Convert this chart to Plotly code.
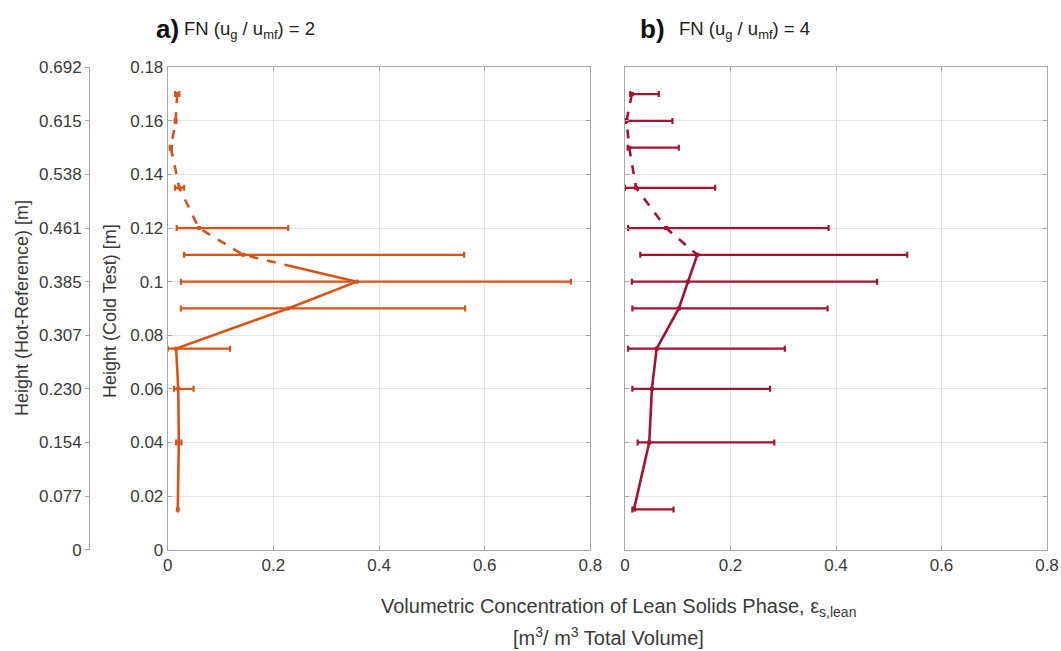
import plotly.graph_objects as go

# ---------------- data ----------------
heights = [0.17, 0.16, 0.15, 0.135, 0.12, 0.11, 0.10, 0.09, 0.075, 0.06, 0.04, 0.015]

# panel a: FN = 2
a_mean = [0.018, 0.015, 0.006, 0.022, 0.059, 0.143, 0.358, 0.228, 0.016, 0.020, 0.021, 0.019]
a_low  = [0.014, 0.014, 0.004, 0.014, 0.017, 0.031, 0.025, 0.025, 0.000, 0.012, 0.016, 0.019]
a_high = [0.022, 0.016, 0.008, 0.031, 0.228, 0.561, 0.763, 0.563, 0.118, 0.049, 0.026, 0.019]
a_dash_h = [0.17, 0.16, 0.15, 0.135, 0.12, 0.11, 0.106]
a_dash_x = [0.018, 0.015, 0.006, 0.022, 0.059, 0.143, 0.228]
a_solid_h = [0.106, 0.10, 0.09, 0.075, 0.06, 0.04, 0.015]
a_solid_x = [0.228, 0.358, 0.228, 0.016, 0.020, 0.021, 0.019]

# panel b: FN = 4
b_mean = [0.013, 0.003, 0.008, 0.021, 0.078, 0.137, 0.119, 0.102, 0.060, 0.051, 0.046, 0.017]
b_low  = [0.010, 0.002, 0.005, 0.000, 0.006, 0.029, 0.013, 0.014, 0.006, 0.014, 0.024, 0.014]
b_high = [0.064, 0.090, 0.102, 0.171, 0.386, 0.535, 0.478, 0.384, 0.303, 0.275, 0.283, 0.092]
b_dash_h = [0.17, 0.16, 0.15, 0.135, 0.12, 0.11]
b_dash_x = [0.013, 0.003, 0.008, 0.021, 0.078, 0.137]
b_solid_h = [0.11, 0.10, 0.09, 0.075, 0.06, 0.04, 0.015]
b_solid_x = [0.137, 0.119, 0.102, 0.060, 0.051, 0.046, 0.017]

x_ticks = [0, 0.2, 0.4, 0.6, 0.8]
x_ticktext = ["0", "0.2", "0.4", "0.6", "0.8"]
cold_ticks = [0, 0.02, 0.04, 0.06, 0.08, 0.10, 0.12, 0.14, 0.16, 0.18]
cold_ticktext = ["0", "0.02", "0.04", "0.06", "0.08", "0.1", "0.12", "0.14", "0.16", "0.18"]
hot_ticktext = ["0", "0.077", "0.154", "0.230", "0.307", "0.385", "0.461", "0.538", "0.615", "0.692"]
hot_max = 0.692

ORANGE = "#D95319"
CRIMSON = "#A2142F"
AXC = "#a8a8a8"
TXT = "#3a3a3a"
FONT = "Liberation Sans, Arial, sans-serif"
TICKSZ = 17

W, H = 1061, 651
# pixel layout
L1, R1 = 167.7, 590.4
L2, R2 = 625.0, 1047.0
TOP, BOT = 67.3, 549.6

def px(x):
    return x / W

def py(y):
    return 1 - y / H

fig = go.Figure()

def add_panel(mean, low, high, dh, dx, sh, sx, color, xa, ya):
    plus = [h - m for h, m in zip(high, mean)]
    minus = [m - l for m, l in zip(mean, low)]
    fig.add_trace(go.Scatter(
        x=mean, y=heights, mode="markers", xaxis=xa, yaxis=ya,
        marker=dict(symbol="square", size=4, color=color),
        error_x=dict(type="data", symmetric=False, array=plus, arrayminus=minus,
                     color=color, thickness=2.2, width=3),
        showlegend=False, hoverinfo="skip"))
    fig.add_trace(go.Scatter(
        x=dx, y=dh, mode="lines", xaxis=xa, yaxis=ya,
        line=dict(color=color, width=2.6, dash="dash"),
        showlegend=False, hoverinfo="skip"))
    fig.add_trace(go.Scatter(
        x=sx, y=sh, mode="lines", xaxis=xa, yaxis=ya,
        line=dict(color=color, width=2.6),
        showlegend=False, hoverinfo="skip"))

add_panel(a_mean, a_low, a_high, a_dash_h, a_dash_x, a_solid_h, a_solid_x, ORANGE, "x", "y")
add_panel(b_mean, b_low, b_high, b_dash_h, b_dash_x, b_solid_h, b_solid_x, CRIMSON, "x2", "y2")

# invisible trace so the hot-reference axis is drawn
fig.add_trace(go.Scatter(x=[0], y=[0], mode="markers", xaxis="x", yaxis="y3",
                         marker=dict(opacity=0), showlegend=False, hoverinfo="skip"))

common_x = dict(range=[0, 0.8], tickvals=x_ticks, ticktext=x_ticktext,
                showgrid=True, gridcolor="#e4e4e4", gridwidth=1,
                showline=True, linecolor=AXC, linewidth=1, mirror="ticks",
                ticks="inside", ticklen=4, tickcolor=AXC, automargin=False,
                tickfont=dict(family=FONT, size=TICKSZ, color=TXT), zeroline=False)
common_y = dict(range=[0, 0.18], tickvals=cold_ticks, ticktext=cold_ticktext,
                showgrid=True, gridcolor="#e4e4e4", gridwidth=1,
                showline=True, linecolor=AXC, linewidth=1, mirror="ticks",
                ticks="inside", ticklen=4, tickcolor=AXC, automargin=False,
                tickfont=dict(family=FONT, size=TICKSZ, color=TXT), zeroline=False)

fig.update_layout(
    width=W, height=H,
    margin=dict(l=0, r=0, t=0, b=0, autoexpand=False),
    paper_bgcolor="white", plot_bgcolor="white",
    xaxis=dict(domain=[px(L1), px(R1)], anchor="y", **common_x),
    yaxis=dict(domain=[py(BOT), py(TOP)], anchor="x", **common_y),
    xaxis2=dict(domain=[px(L2), px(R2)], anchor="y2", **common_x),
    yaxis2=dict(domain=[py(BOT), py(TOP)], anchor="x2", showticklabels=False,
                **{k: v for k, v in common_y.items() if k not in ("tickfont",)}),
    yaxis3=dict(overlaying="y", anchor="free", position=px(89), side="left",
                range=[0, hot_max], tickvals=[i * hot_max / 9 for i in range(10)],
                ticktext=hot_ticktext, showgrid=False, zeroline=False,
                showline=True, linecolor=AXC, linewidth=1, automargin=False,
                ticks="outside", ticklen=4, tickcolor=AXC,
                tickfont=dict(family=FONT, size=TICKSZ, color=TXT)),
    font=dict(family=FONT, color=TXT),
)

ann = []
ann.append(dict(text="<b>a)</b>", x=px(154), y=py(29), xref="paper", yref="paper",
                xanchor="left", yanchor="middle", showarrow=False,
                font=dict(family=FONT, size=26, color="#111")))
ann.append(dict(text="FN (u<sub>g</sub> / u<sub>mf</sub>) = 2", x=px(182), y=py(30),
                xref="paper", yref="paper", xanchor="left", yanchor="middle", showarrow=False,
                font=dict(family=FONT, size=18.5, color="#222")))
ann.append(dict(text="<b>b)</b>", x=px(638), y=py(29), xref="paper", yref="paper",
                xanchor="left", yanchor="middle", showarrow=False,
                font=dict(family=FONT, size=26, color="#111")))
ann.append(dict(text="FN (u<sub>g</sub> / u<sub>mf</sub>) = 4", x=px(677), y=py(30),
                xref="paper", yref="paper", xanchor="left", yanchor="middle", showarrow=False,
                font=dict(family=FONT, size=18.5, color="#222")))
ann.append(dict(text="Height (Hot-Reference) [m]", x=px(22), y=py(308), xref="paper", yref="paper",
                textangle=-90, showarrow=False, xanchor="center", yanchor="middle",
                font=dict(family=FONT, size=18, color=TXT)))
ann.append(dict(text="Height (Cold Test) [m]", x=px(110), y=py(311), xref="paper", yref="paper",
                textangle=-90, showarrow=False, xanchor="center", yanchor="middle",
                font=dict(family=FONT, size=18, color=TXT)))
ann.append(dict(text="Volumetric Concentration of Lean Solids Phase, ε<sub>s,lean</sub>",
                x=px(618), y=py(607), xref="paper", yref="paper", showarrow=False,
                xanchor="center", yanchor="middle", font=dict(family=FONT, size=20, color=TXT)))
ann.append(dict(text="[m<sup>3</sup>/ m<sup>3</sup> Total Volume]",
                x=px(608), y=py(636), xref="paper", yref="paper", showarrow=False,
                xanchor="center", yanchor="middle", font=dict(family=FONT, size=20, color=TXT)))
fig.update_layout(annotations=ann)

fig.write_html("out.html")
